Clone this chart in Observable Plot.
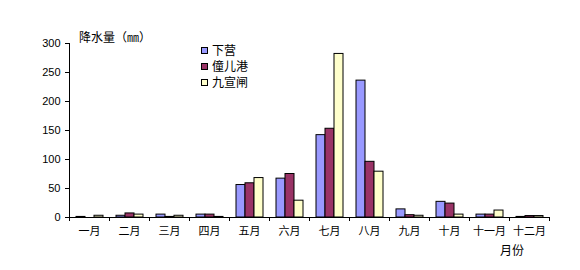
<!DOCTYPE html>
<html><head><meta charset="utf-8">
<script src="https://cdn.jsdelivr.net/npm/d3@7"></script>
<script src="https://cdn.jsdelivr.net/npm/@observablehq/plot@0.6"></script>
<style>
body{margin:0;background:#fff;}
#chart{position:relative;width:580px;height:270px;}
</style></head><body><div id="chart"></div>
<script>
const months = ["一月","二月","三月","四月","五月","六月","七月","八月","九月","十月","十一月","十二月"];
const seriesNames = ["下营","僮儿港","九宣闸"];
const xiaying    = [1, 3, 5, 5, 56, 67, 142, 236, 14, 27, 5, 1];
const tongergang = [0, 7, 1, 5, 59, 75, 153, 96, 4, 24, 5, 2.5];
const jiuxuanzha = [3, 5, 3, 1, 68, 29, 282, 79, 3, 5, 12, 2.5];
const seriesColors = ["#9999FF", "#993366", "#FFFFCC"];
const yTicks = [0, 50, 100, 150, 200, 250, 300];
const yTitle = "降水量（㎜）";
const xTitle = "月份";

const seriesValues = [xiaying, tongergang, jiuxuanzha];
const data = [];
months.forEach((m, i) => seriesNames.forEach((s, j) => data.push({month: m, series: s, value: seriesValues[j][i]})));

const cjk = "'Noto Sans CJK SC', sans-serif";
const plot = Plot.plot({
  width: 580, height: 270,
  marginLeft: 69, marginRight: 31, marginTop: 43, marginBottom: 53,
  style: {fontFamily: cjk, fontSize: "11px", background: "white", color: "black"},
  fx: {domain: months, padding: 0, label: null},
  x: {domain: seriesNames, paddingInner: 0, paddingOuter: 0.65, axis: null},
  y: {domain: [0, 300], label: null},
  color: {domain: seriesNames, range: seriesColors},
  marks: [
    Plot.axisY({ticks: yTicks, tickSize: 4, tickPadding: 5, label: null, fontFamily: "'Liberation Sans', Arial, sans-serif", fontSize: 11, tickFormat: d => d}),
    Plot.axisFx({anchor: "bottom", tickSize: 0, tickPadding: 10, label: null, fontFamily: cjk, fontSize: 11}),
    Plot.barY(data, {fx: "month", x: "series", y: "value", fill: "series", stroke: "black", strokeWidth: 1}),
    Plot.ruleY([0], {stroke: "black"})
  ]
});
document.getElementById("chart").appendChild(plot);

const svg = d3.select(plot);
const fx = plot.scale("fx"), y = plot.scale("y");
const x0 = fx.apply(months[0]);
const edges = months.map(m => fx.apply(m));
edges.push(fx.apply(months[months.length - 1]) + fx.bandwidth);
const y0 = y.apply(0), yTop = y.apply(300);
const NS = "http://www.w3.org/2000/svg";
function addLine(xa, ya, xb, yb) {
  const l = document.createElementNS(NS, "line");
  l.setAttribute("x1", xa); l.setAttribute("y1", ya);
  l.setAttribute("x2", xb); l.setAttribute("y2", yb);
  l.setAttribute("stroke", "black"); l.setAttribute("stroke-width", "1");
  l.setAttribute("fill", "none");
  plot.appendChild(l);
}
addLine(x0 + 0.5, yTop, x0 + 0.5, y0 + 0.5);
edges.forEach(e => addLine(e + 0.5, y0, e + 0.5, y0 + 4));

const txt = (sel) => sel.attr("font-family", cjk).attr("fill", "black").attr("text-anchor", "start").attr("stroke", "none");
txt(svg.append("text")).attr("x", x0 + 10).attr("y", yTop - 1).attr("font-size", 12).text(yTitle);
txt(svg.append("text")).attr("x", 500).attr("y", 255).attr("font-size", 12).text(xTitle);

const lg = svg.append("g").attr("transform", "translate(201,45)");
seriesNames.forEach((s, i) => {
  const row = lg.append("g").attr("transform", `translate(0,${i * 16})`);
  row.append("rect").attr("x", 0.5).attr("y", 2.5).attr("width", 6).attr("height", 6).attr("fill", seriesColors[i]).attr("stroke", "black");
  txt(row.append("text")).attr("x", 11).attr("y", 10).attr("font-size", 12).text(s);
});
</script></body></html>
